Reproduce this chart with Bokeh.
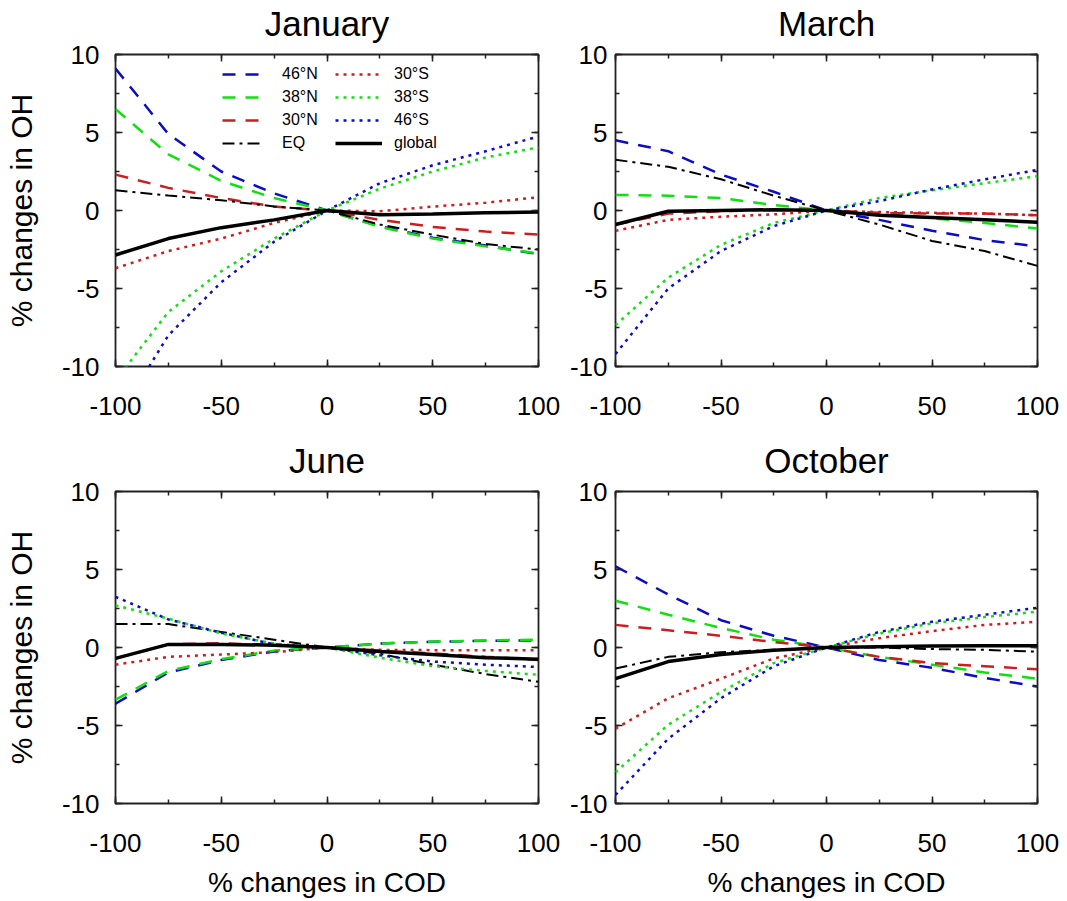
from bokeh.plotting import figure
from bokeh.models import (Range1d, LinearAxis, Legend, LegendItem,
                          SingleIntervalTicker, NumeralTickFormatter,
                          CustomLabelingPolicy)
from bokeh.layouts import column, row
from bokeh.embed import file_html
from bokeh.resources import INLINE

# ---------------- data ----------------
COD = [-100, -75, -50, -25, 0, 25, 50, 75, 100]   # % changes in COD
SERIES = ["46°N", "38°N", "30°N", "EQ", "30°S", "38°S", "46°S", "global"]
MONTHS = ["January", "March", "June", "October"]

jan_46N = [9.1, 4.9, 2.5, 1.1, 0.0, -1.0, -1.75, -2.25, -2.8]
jan_38N = [6.5, 3.6, 1.9, 0.8, 0.0, -1.05, -1.8, -2.3, -2.75]
jan_30N = [2.3, 1.45, 0.8, 0.25, 0.0, -0.6, -1.05, -1.35, -1.55]
jan_EQ = [1.3, 0.96, 0.66, 0.26, 0.0, -0.9, -1.55, -2.15, -2.5]
jan_30S = [-3.7, -2.6, -1.8, -0.8, 0.0, -0.05, 0.25, 0.5, 0.85]
jan_38S = [-10.9, -6.5, -3.9, -1.8, 0.0, 1.4, 2.5, 3.4, 4.05]
jan_46S = [-13.5, -8.0, -4.6, -2.0, 0.0, 1.75, 2.9, 3.8, 4.75]
jan_glb = [-2.85, -1.8, -1.1, -0.6, 0.0, -0.28, -0.22, -0.15, -0.1]

mar_46N = [4.5, 3.8, 2.3, 1.2, 0.0, -0.6, -1.3, -1.9, -2.3]
mar_38N = [1.0, 0.95, 0.8, 0.35, 0.0, -0.2, -0.5, -0.8, -1.15]
mar_30N = [-0.9, -0.2, -0.05, 0.05, 0.0, -0.15, -0.2, -0.2, -0.3]
mar_EQ = [3.25, 2.8, 2.0, 0.95, 0.0, -0.9, -1.95, -2.6, -3.55]
mar_30S = [-1.3, -0.6, -0.4, -0.25, 0.0, -0.1, -0.15, -0.2, -0.3]
mar_38S = [-7.35, -4.3, -2.2, -0.8, 0.0, 0.8, 1.3, 1.75, 2.2]
mar_46S = [-9.2, -5.0, -2.6, -1.0, 0.0, 0.6, 1.35, 2.0, 2.6]
mar_glb = [-0.9, -0.05, 0.0, 0.05, 0.0, -0.3, -0.45, -0.6, -0.75]

jun_46N = [-3.6, -1.6, -0.8, -0.25, 0.0, 0.25, 0.37, 0.43, 0.45]
jun_38N = [-3.35, -1.5, -0.75, -0.2, 0.0, 0.25, 0.38, 0.45, 0.5]
jun_30N = [-0.7, 0.2, 0.27, 0.15, 0.0, -0.2, -0.38, -0.6, -0.8]
jun_EQ = [1.5, 1.5, 1.0, 0.5, 0.0, -0.4, -1.1, -1.7, -2.2]
jun_30S = [-1.1, -0.6, -0.45, -0.3, 0.0, -0.15, -0.17, -0.17, -0.17]
jun_38S = [2.7, 1.85, 0.9, 0.25, 0.0, -0.65, -1.2, -1.5, -1.75]
jun_46S = [3.25, 1.8, 0.95, 0.2, 0.0, -0.5, -0.9, -1.1, -1.25]
jun_glb = [-0.7, 0.2, 0.2, 0.15, 0.0, -0.25, -0.45, -0.65, -0.75]

oct_46N = [5.2, 3.4, 1.75, 0.75, 0.0, -0.8, -1.3, -1.95, -2.5]
oct_38N = [3.0, 2.1, 1.25, 0.5, 0.0, -0.6, -1.1, -1.6, -2.0]
oct_30N = [1.45, 1.1, 0.75, 0.35, 0.0, -0.6, -1.0, -1.2, -1.4]
oct_EQ = [-1.35, -0.6, -0.3, -0.15, 0.0, 0.0, -0.1, -0.15, -0.27]
oct_30S = [-5.2, -3.25, -2.0, -0.7, 0.0, 0.6, 1.05, 1.45, 1.65]
oct_38S = [-8.0, -4.95, -2.85, -1.0, 0.0, 0.9, 1.55, 1.95, 2.3]
oct_46S = [-9.45, -5.85, -3.25, -1.2, 0.0, 1.0, 1.65, 2.1, 2.55]
oct_glb = [-2.0, -0.9, -0.45, -0.17, 0.0, 0.05, 0.1, 0.12, 0.12]

DATA = {
    "January": [jan_46N, jan_38N, jan_30N, jan_EQ, jan_30S, jan_38S, jan_46S, jan_glb],
    "March": [mar_46N, mar_38N, mar_30N, mar_EQ, mar_30S, mar_38S, mar_46S, mar_glb],
    "June": [jun_46N, jun_38N, jun_30N, jun_EQ, jun_30S, jun_38S, jun_46S, jun_glb],
    "October": [oct_46N, oct_38N, oct_30N, oct_EQ, oct_30S, oct_38S, oct_46S, oct_glb],
}

# ---------------- styles ----------------
BLUE, GREEN, RED, BLACK = "#0c0cc8", "#10e010", "#cc1e1e", "#000000"
STYLE = {
    "46°N": dict(color=BLUE, dash="13 10", width=2.5),
    "38°N": dict(color=GREEN, dash="13 10", width=2.5),
    "30°N": dict(color=RED, dash="13 10", width=2.5),
    "EQ": dict(color=BLACK, dash="12 5 3 5", width=2.0),
    "30°S": dict(color=RED, dash="3 5", width=2.5),
    "38°S": dict(color=GREEN, dash="3 5", width=2.5),
    "46°S": dict(color=BLUE, dash="3 5", width=2.5),
    "global": dict(color=BLACK, dash="solid", width=3.5),
}

FONT = "Liberation Sans"
FRAME_H = 312
NO_LABELS = "for (const i of indices) indices.unset(i)"


def style_axis(ax, show_labels):
    ax.axis_line_color = None
    ax.major_tick_in = 7
    ax.major_tick_out = 0
    ax.minor_tick_in = 4
    ax.minor_tick_out = 0
    ax.major_tick_line_width = 1.5
    ax.minor_tick_line_width = 1.5
    ax.major_tick_line_color = "#222222"
    ax.minor_tick_line_color = "#222222"
    ax.major_label_text_font = FONT
    ax.major_label_text_color = "black"
    ax.formatter = NumeralTickFormatter(format="0")
    if show_labels:
        ax.major_label_text_font_size = "26px"
    else:
        ax.major_label_text_font_size = "0px"
        ax.major_label_standoff = 0
        ax.major_label_policy = CustomLabelingPolicy(code=NO_LABELS)


def make_panel(month, left_col, top_row):
    fw = 423 if left_col else 422
    p = figure(frame_width=fw, frame_height=FRAME_H,
               x_range=Range1d(-100, 100), y_range=Range1d(-10, 10),
               output_backend="svg", toolbar_location=None,
               min_border_left=115 if left_col else 55,
               min_border_right=22,
               min_border_top=53 if top_row else 65,
               min_border_bottom=60 if top_row else 99,
               background_fill_color="white", border_fill_color="white")
    p.xgrid.grid_line_color = None
    p.ygrid.grid_line_color = None
    p.outline_line_color = "#222222"
    p.outline_line_width = 1.8
    p.outline_line_alpha = 1.0

    bottom = p.below[0]
    left = p.left[0]
    bottom.ticker = SingleIntervalTicker(interval=50, num_minor_ticks=2)
    left.ticker = SingleIntervalTicker(interval=5, num_minor_ticks=2)
    style_axis(bottom, True)
    bottom.major_label_standoff = 30
    style_axis(left, True)
    left.major_label_standoff = 16 if left_col else 8

    top = LinearAxis(ticker=SingleIntervalTicker(interval=50, num_minor_ticks=2))
    style_axis(top, False)
    top.axis_label = month
    top.axis_label_text_font = FONT
    top.axis_label_text_font_size = "35px"
    top.axis_label_text_font_style = "normal"
    top.axis_label_text_color = "black"
    top.axis_label_standoff = 12
    p.add_layout(top, "above")

    right = LinearAxis(ticker=SingleIntervalTicker(interval=5, num_minor_ticks=2))
    style_axis(right, False)
    p.add_layout(right, "right")

    if left_col:
        left.axis_label = "% changes in OH"
        left.axis_label_text_font = FONT
        left.axis_label_text_font_size = "30px"
        left.axis_label_text_font_style = "normal"
        left.axis_label_text_color = "black"
        left.axis_label_standoff = 21
    if not top_row:
        bottom.axis_label = "% changes in COD"
        bottom.axis_label_text_font = FONT
        bottom.axis_label_text_font_size = "28px"
        bottom.axis_label_text_font_style = "normal"
        bottom.axis_label_text_color = "black"
        bottom.axis_label_text_line_height = 1.0
        bottom.axis_label_standoff = 12

    renderers = {}
    for name, ys in zip(SERIES, DATA[month]):
        st = STYLE[name]
        r = p.line(COD, ys, line_color=st["color"], line_width=st["width"],
                   line_dash=st["dash"])
        renderers[name] = r
    return p, renderers


p1, r1 = make_panel("January", True, True)
p2, _ = make_panel("March", False, True)
p3, _ = make_panel("June", True, False)
p4, _ = make_panel("October", False, False)


# two-column legend in the January panel
def legend_block(names, x, glyph_w, standoff):
    lg = Legend(items=[LegendItem(label=n, renderers=[r1[n]]) for n in names],
                location=(x, 213), orientation="vertical",
                glyph_width=glyph_w, glyph_height=20, label_height=20,
                label_standoff=standoff, spacing=3, padding=0, margin=0,
                border_line_color=None, background_fill_alpha=0,
                label_text_font=FONT, label_text_font_size="16px",
                label_text_color="black")
    p1.add_layout(lg, "center")


legend_block(SERIES[:4], 107, 38, 22)
legend_block(SERIES[4:], 220, 47, 12)

layout = column(row(p1, p2), row(p3, p4))

with open("out.html", "w") as f:
    f.write(file_html(layout, INLINE))
